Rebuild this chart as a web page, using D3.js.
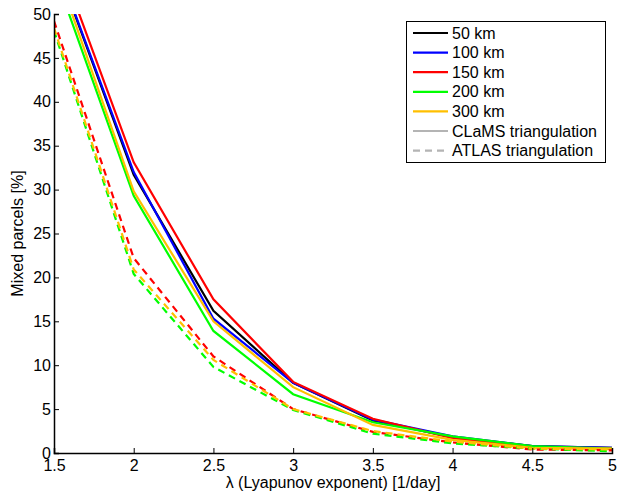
<!DOCTYPE html>
<html>
<head>
<meta charset="utf-8">
<script src="https://cdn.jsdelivr.net/npm/d3@7"></script>
<style>
  body { margin: 0; background: #fff; }
  text { font-family: "Liberation Sans", Arial, sans-serif; }
</style>
</head>
<body>
<script>
// lambda values (x axis)
const lambdas = [1.5, 2, 2.5, 3, 3.5, 4, 4.5, 5];

// CLaMS triangulation (solid lines), mixed parcels in %
const clams50  = [56.4, 31.7, 16.2, 8.0, 3.7, 1.8, 0.8, 0.6];
const clams100 = [56.5, 32.0, 15.3, 8.0, 3.8, 1.9, 0.8, 0.6];
const clams150 = [57.8, 33.1, 17.5, 8.1, 3.9, 1.7, 0.7, 0.5];
const clams200 = [54.8, 29.3, 13.9, 6.7, 3.5, 1.9, 0.8, 0.5];
const clams300 = [55.9, 29.8, 15.0, 7.5, 3.2, 1.5, 0.6, 0.5];

// ATLAS triangulation (dashed lines)
const atlas150 = [49.2, 22.2, 11.0, 5.0, 2.4, 1.2, 0.4, 0.3];
const atlas200 = [48.1, 20.4, 9.8, 4.9, 2.2, 1.1, 0.5, 0.2];
const atlas300 = [48.4, 20.9, 10.6, 5.0, 2.5, 1.3, 0.5, 0.4];

const xTicks = [1.5, 2, 2.5, 3, 3.5, 4, 4.5, 5];
const yTicks = [0, 5, 10, 15, 20, 25, 30, 35, 40, 45, 50];

const legendNames = ['50 km', '100 km', '150 km', '200 km', '300 km', 'CLaMS triangulation', 'ATLAS triangulation'];

const colors = {
  k50: '#000000',
  k100: '#0000ff',
  k150: '#ff0000',
  k200: '#00ff00',
  k300: '#ffbf00',
  gray: '#b4b4b4'
};

const width = 617, height = 495;
const margin = {top: 14, right: 5, bottom: 42, left: 54};
const fontSize = 16;

const svg = d3.select('body').append('svg')
  .attr('width', width)
  .attr('height', height);

const xScale = d3.scaleLinear()
  .domain([1.5, 5])
  .range([margin.left, width - margin.right]);

const yScale = d3.scaleLinear()
  .domain([0, 50])
  .range([height - margin.bottom, margin.top]);

svg.append('clipPath').attr('id', 'plotclip')
  .append('rect')
  .attr('x', margin.left)
  .attr('y', margin.top)
  .attr('width', width - margin.right - margin.left)
  .attr('height', height - margin.bottom - margin.top);

const line = d3.line()
  .x((d, i) => xScale(lambdas[i]))
  .y(d => yScale(d));

const series = [
  {vals: clams50,  color: colors.k50,  dash: null},
  {vals: clams100, color: colors.k100, dash: null},
  {vals: clams150, color: colors.k150, dash: null},
  {vals: clams200, color: colors.k200, dash: null},
  {vals: clams300, color: colors.k300, dash: null},
  {vals: atlas150, color: colors.k150, dash: '7,5'},
  {vals: atlas200, color: colors.k200, dash: '7,5'},
  {vals: atlas300, color: colors.k300, dash: '7,5'}
];

const plot = svg.append('g').attr('clip-path', 'url(#plotclip)');
plot.selectAll('path')
  .data(series)
  .join('path')
  .attr('d', d => line(d.vals))
  .attr('fill', 'none')
  .attr('stroke', d => d.color)
  .attr('stroke-width', 2.2)
  .attr('stroke-dasharray', d => d.dash);

// AXES (ticks pointing inward, like matlab)
const xAxis = d3.axisBottom(xScale).tickValues(xTicks).tickSize(-5).tickPadding(7)
  .tickFormat(d3.format('~g'));
svg.append('g')
  .attr('transform', `translate(0,${height - margin.bottom})`)
  .call(xAxis)
  .call(g => g.select('.domain').attr('stroke-width', 1.5))
  .call(g => g.selectAll('text').attr('font-size', fontSize).attr('fill', '#000')
    .attr('font-family', '"Liberation Sans", Arial, sans-serif'));

const yAxis = d3.axisLeft(yScale).tickValues(yTicks).tickSize(-5).tickPadding(3);
svg.append('g')
  .attr('transform', `translate(${margin.left},0)`)
  .call(yAxis)
  .call(g => g.select('.domain').attr('stroke-width', 1.5))
  .call(g => g.selectAll('text').attr('font-size', fontSize).attr('fill', '#000')
    .attr('font-family', '"Liberation Sans", Arial, sans-serif'));

// axis labels
svg.append('text')
  .attr('x', (margin.left + width - margin.right) / 2)
  .attr('y', 488)
  .attr('text-anchor', 'middle')
  .attr('font-size', fontSize)
  .text('λ (Lyapunov exponent) [1/day]');

svg.append('text')
  .attr('transform', `translate(23,${(margin.top + height - margin.bottom) / 2}) rotate(-90)`)
  .attr('text-anchor', 'middle')
  .attr('font-size', fontSize)
  .text('Mixed parcels [%]');

// LEGEND
const legend = svg.append('g');
legend.append('rect')
  .attr('x', 406.5).attr('y', 21.5)
  .attr('width', 199).attr('height', 141)
  .attr('fill', '#fff').attr('stroke', '#000').attr('stroke-width', 1);

const legendStyles = [
  {color: colors.k50, dash: null},
  {color: colors.k100, dash: null},
  {color: colors.k150, dash: null},
  {color: colors.k200, dash: null},
  {color: colors.k300, dash: null},
  {color: colors.gray, dash: null},
  {color: colors.gray, dash: '7,5'}
];

const items = legend.selectAll('g.item')
  .data(legendNames)
  .join('g')
  .attr('class', 'item')
  .attr('transform', (d, i) => `translate(0,${33 + i * 19.6})`);

items.append('line')
  .attr('x1', 413).attr('x2', 448)
  .attr('stroke', (d, i) => legendStyles[i].color)
  .attr('stroke-width', 2.2)
  .attr('stroke-dasharray', (d, i) => legendStyles[i].dash);

items.append('text')
  .attr('x', 452)
  .attr('y', 5.5)
  .attr('font-size', fontSize)
  .text(d => d);
</script>
</body>
</html>
